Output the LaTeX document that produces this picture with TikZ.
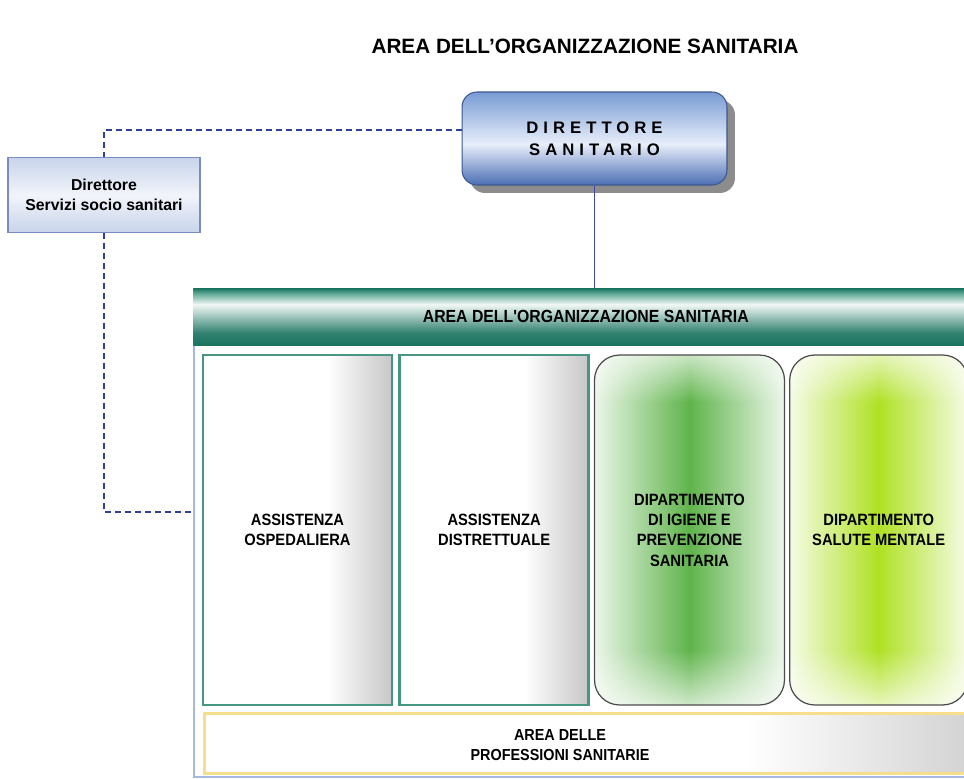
\documentclass[tikz,border=0pt]{standalone}
\usepackage{fontspec}
\setmainfont{Liberation Sans}
\newfontfamily\narrowfont[FakeStretch=0.9]{Liberation Sans}
\newfontfamily\spacedfont[LetterSpace=30]{Liberation Sans}
\usepackage{xcolor}
\definecolor{dashblue}{RGB}{45,65,150}
\definecolor{linkblue}{RGB}{60,75,170}
\definecolor{frameblue}{RGB}{165,185,228}
\definecolor{dirdark}{RGB}{75,110,180}
\definecolor{dirmid}{RGB}{120,155,212}
\definecolor{dirlight}{RGB}{232,238,250}
\definecolor{sociofill}{RGB}{200,212,235}
\definecolor{socioline}{RGB}{120,140,195}
\definecolor{tealdark}{RGB}{25,115,95}
\definecolor{tealmid}{RGB}{90,165,145}
\definecolor{tealline}{RGB}{70,150,130}
\definecolor{igiene}{RGB}{95,180,75}
\definecolor{mentale}{RGB}{175,225,35}
\definecolor{barline}{RGB}{245,222,140}
\usepackage{tikz}
\usetikzlibrary{positioning,shadows,fadings}
\pgfdeclarehorizontalshading{colfade}{100bp}{color(0bp)=(white); color(58bp)=(white); color(75bp)=(black!22); color(100bp)=(black!22)}
\pgfdeclarehorizontalshading{barfade}{100bp}{color(0bp)=(white); color(60bp)=(white); color(75bp)=(black!18); color(100bp)=(black!18)}
\pgfdeclareverticalshading{headfade}{100bp}{color(0bp)=(tealdark); color(25bp)=(tealdark); color(36bp)=(tealdark!90!white); color(61bp)=(white!92!tealmid); color(71bp)=(tealmid); color(75bp)=(tealdark); color(100bp)=(tealdark)}
\pgfdeclareverticalshading{dirfade}{100bp}{color(0bp)=(dirdark); color(25bp)=(dirdark); color(47bp)=(dirlight); color(75bp)=(dirmid); color(100bp)=(dirmid)}
\pgfdeclareverticalshading{endsmask}{100bp}{color(0bp)=(white); color(25bp)=(white); color(35bp)=(black); color(66bp)=(black); color(75bp)=(white); color(100bp)=(white)}
\begin{tikzfadingfrompicture}[name=endsfade]
  \shade[shading=endsmask] (0,0) rectangle (2,2);
\end{tikzfadingfrompicture}
\newcommand{\lnk}[2]{\draw[solidlink] (#1) -- (#2)}

\begin{document}
\begin{tikzpicture}[
      x=0.02cm, y=-0.02cm,
      node distance=0.1cm,
      titletext/.style={font=\bfseries\fontsize{11.8}{14}\selectfont},
      dirbox/.style={rectangle,rounded corners=3mm,draw=dirdark!80!black,line width=0.6pt,shade,shading=dirfade,minimum width=5.3cm,minimum height=1.86cm,align=center,drop shadow={shadow xshift=0.16cm,shadow yshift=-0.16cm,fill=black!45,opacity=1},font=\spacedfont\bfseries\fontsize{9.5}{12.5}\selectfont},
      sociobox/.style={rectangle,draw=socioline,line width=0.8pt,top color=sociofill,bottom color=sociofill,middle color=white!75!sociofill,minimum width=3.84cm,minimum height=1.5cm,align=center,font=\bfseries\fontsize{9}{11.3}\selectfont},
      areaframe/.style={rectangle,draw=frameblue,line width=1.2pt,minimum width=15.8cm,minimum height=9.76cm,anchor=north west},
      headbar/.style={rectangle,shade,shading=headfade,minimum width=15.7cm,minimum height=1.14cm,anchor=north west,font=\narrowfont\bfseries\fontsize{10}{12}\selectfont},
      plaincol/.style={rectangle,draw=tealline,line width=1.5pt,shade,shading=colfade,minimum width=3.78cm,minimum height=7cm,align=center,font=\narrowfont\bfseries\fontsize{9.3}{11.6}\selectfont},
      deptcol/.style={rectangle,rounded corners=5mm,draw=black!70,line width=0.7pt,left color=#1!12!white,right color=#1!12!white,middle color=#1,minimum height=7cm,align=center,font=\narrowfont\bfseries\fontsize{9.3}{11.6}\selectfont,
        path picture={
          \fill[white,path fading=endsfade] (path picture bounding box.south west) rectangle (path picture bounding box.north east);
        }},
      profbar/.style={rectangle,draw=barline,line width=1.5pt,shade,shading=barfade,minimum width=15.5cm,minimum height=1.2cm,anchor=north west},
      proftext/.style={align=center,font=\narrowfont\bfseries\fontsize{9.1}{11.4}\selectfont},
      solidlink/.style={draw=linkblue,line width=0.9pt},
      dashlink/.style={draw=dashblue,line width=1.1pt,dash pattern=on 0.12cm off 0.08cm}]

      \useasboundingbox (0,0) rectangle (964,778);
      \clip (0,0) rectangle (964,778);

      % Define nodes
      \node[titletext] (title) at (585,46) {AREA DELL'ORGANIZZAZIONE SANITARIA};
      \node[dirbox] (dirSan) at (594.5,138.5) {DIRETTORE\\SANITARIO};
      \node[sociobox] (socio) at (104,195) {Direttore\\Servizi socio sanitari};
      \node[areaframe] (areaBox) at (193,288) {};
      \node[headbar] (header) at (193,288) {AREA DELL'ORGANIZZAZIONE SANITARIA};
      \node[plaincol] (osped) at (297.5,530) {ASSISTENZA\\OSPEDALIERA};
      \node[plaincol,right=of osped] (distr) {ASSISTENZA\\DISTRETTUALE};
      \node[deptcol=igiene,minimum width=3.8cm,right=0.08cm of distr] (igiene) {DIPARTIMENTO\\DI IGIENE E\\PREVENZIONE\\SANITARIA};
      \node[deptcol=mentale,minimum width=3.56cm,right=0.08cm of igiene] (mentale) {DIPARTIMENTO\\SALUTE MENTALE};
      \node[profbar] (prof) at (203,712) {};
      \node[proftext] (profLbl) at (560,745) {AREA DELLE\\PROFESSIONI SANITARIE};
      \coordinate (dirJoin) at (462,130);
      \coordinate (areaJoin) at (193,512);

      % Draw paths
      \lnk{dirSan.south}{dirSan.south |- header.north};
      \draw[dashlink] (dirJoin) -| (socio.north);
      \draw[dashlink] (socio.south) |- (areaJoin);

\end{tikzpicture}
\end{document}
